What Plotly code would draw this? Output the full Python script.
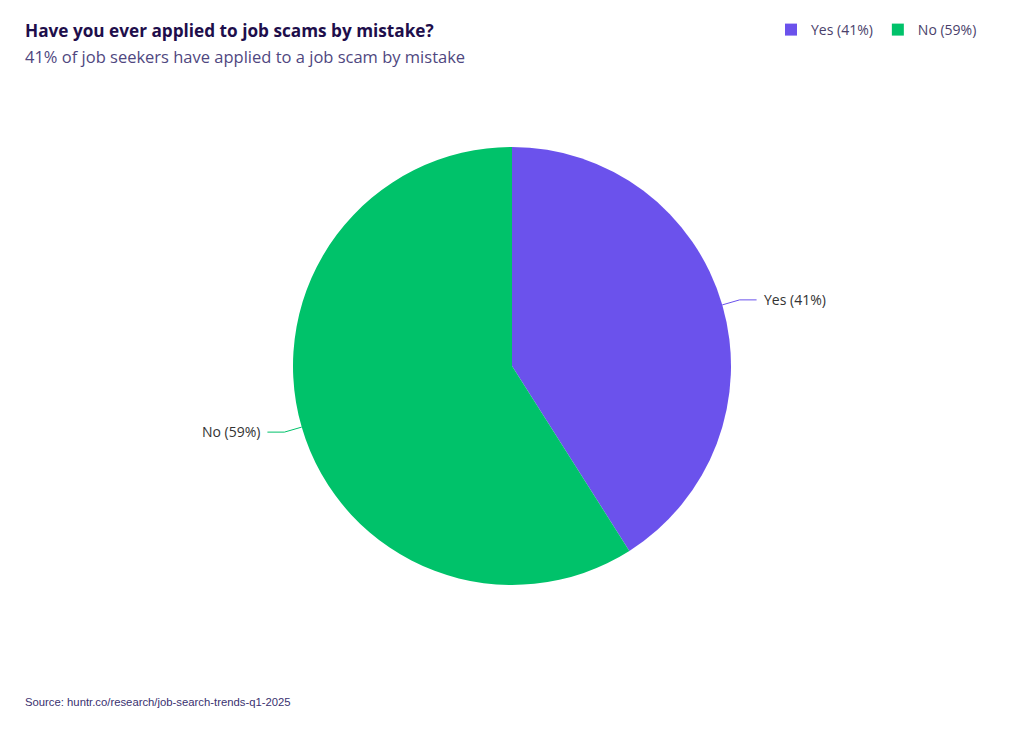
import math
import plotly.graph_objects as go

labels = ["Yes", "No"]
values = [41, 59]
colors = ["#6B52EC", "#00C26A"]
legend_names = ["Yes (41%)", "No (59%)"]

title = "Have you ever applied to job scams by mistake?"
subtitle = "41% of job seekers have applied to a job scam by mistake"
source = "Source: huntr.co/research/job-search-trends-q1-2025"

OFF = 8                      # page body margin
W, H = 1024 - 2 * OFF, 732 - 2 * OFF
CX, CY, R = 512, 366, 219    # pie centre / radius in page pixels
FONT = "Open Sans, Noto Sans, sans-serif"


def px(x):
    return (x - OFF) / W


def py(y):
    return 1 - (y - OFF) / H


fig = go.Figure(go.Pie(
    labels=legend_names,
    values=values,
    marker=dict(colors=colors, line=dict(width=0)),
    sort=False,
    direction="clockwise",
    rotation=0,
    textinfo="none",
    hoverinfo="label",
    domain=dict(x=[0, 1], y=[py(CY + R), py(CY - R)]),
    showlegend=True,
))

# outside labels with leader lines, placed at each slice's mid-angle
shapes = []
annotations = []
total = sum(values)
cum = 0
for lab, val, col in zip(labels, values, colors):
    mid = (cum + val / 2) / total * 2 * math.pi
    cum += val
    dx, dy = math.sin(mid), -math.cos(mid)
    x0, y0 = CX + R * dx, CY + R * dy
    x1, y1 = CX + (R + 18) * dx, CY + (R + 18) * dy
    side = 1 if dx >= 0 else -1
    x2 = x1 + 17 * side
    shapes.append(dict(type="path", xref="paper", yref="paper",
                       path=f"M {px(x0)},{py(y0)} L {px(x1)},{py(y1)} L {px(x2)},{py(y1)}",
                       line=dict(color=col, width=1)))
    annotations.append(dict(text=f"{lab} ({val / total * 100:.0f}%)",
                            x=px(x2 + 5 * side), y=py(y1 - 0.5), xref="paper", yref="paper",
                            xanchor="left" if side > 0 else "right", yanchor="middle",
                            showarrow=False,
                            font=dict(size=14, color="#333333", family=FONT)))

annotations += [
    dict(text="<b>" + title + "</b>", x=px(23), y=py(31), xref="paper", yref="paper",
         xanchor="left", yanchor="middle", showarrow=False,
         font=dict(size=17.2, color="#1E0E4B", family=FONT)),
    dict(text=subtitle, x=px(23), y=py(56), xref="paper", yref="paper",
         xanchor="left", yanchor="middle", showarrow=False,
         font=dict(size=16.5, color="#4F4780", family=FONT)),
    dict(text=source, x=px(23), y=py(702), xref="paper", yref="paper",
         xanchor="left", yanchor="middle", showarrow=False,
         font=dict(size=11.3, color="#3A3170", family="Liberation Sans, Arial, sans-serif")),
]

fig.update_layout(
    width=W, height=H,
    margin=dict(l=0, r=0, t=0, b=0, autoexpand=False),
    paper_bgcolor="white",
    plot_bgcolor="white",
    font=dict(family=FONT),
    legend=dict(
        orientation="h",
        x=px(982), xanchor="right",
        y=py(30), yanchor="middle",
        font=dict(size=14, color="#4A3F6B"),
    ),
    shapes=shapes,
    annotations=annotations,
)

fig.write_html("out.html")
